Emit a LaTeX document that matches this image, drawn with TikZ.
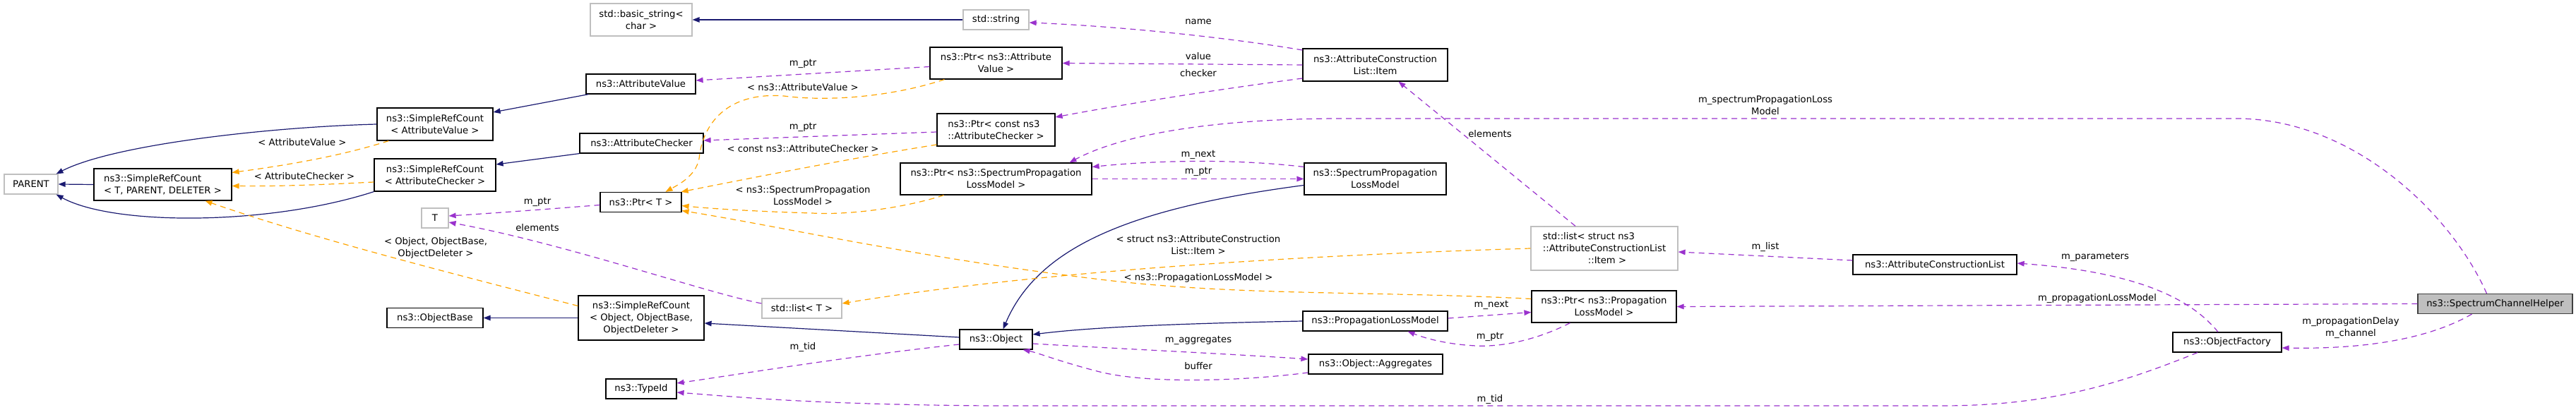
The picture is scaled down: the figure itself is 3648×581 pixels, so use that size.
\documentclass[tikz,border=0pt]{standalone}
\usepackage{fontspec}
\setmainfont{DejaVu Sans}
\usepackage{xcolor,tikz}
\usetikzlibrary{arrows.meta}

\definecolor{inhblue}{HTML}{191970}
\definecolor{tmplorange}{HTML}{FFA500}
\definecolor{usepurple}{HTML}{9A32CD}
\definecolor{extgray}{HTML}{BFBFBF}
\definecolor{helpergray}{HTML}{BFBFBF}

\begin{document}
\begin{tikzpicture}[x=1bp, y=-1bp,
    font=\fontsize{13.2bp}{17bp}\selectfont,
    cls/.style={draw=black, fill=white, line width=1.2bp, align=center, inner sep=0pt},
    ext/.style={cls, draw=extgray},
    lbl/.style={align=center, inner sep=0pt},
    tip/.style={-{Triangle[length=10bp,width=7.5bp]}},
    inh/.style={tip, draw=inhblue, line width=1.2bp},
    tmpl/.style={tip, draw=tmplorange, line width=1.2bp, dash pattern=on 8bp off 6bp},
    use/.style={tip, draw=usepurple, line width=1.2bp, dash pattern=on 8bp off 6bp}]
  \useasboundingbox (0,0) rectangle (3648,581);

  \node[ext, minimum width=76bp, minimum height=28bp] (parent) at (44,261) {PARENT};
  \node[cls, align=left, minimum width=195bp, minimum height=45bp] (srcTPD) at (230.5,261.5) {ns3::SimpleRefCount\\< T, PARENT, DELETER >};
  \node[cls, minimum width=164bp, minimum height=46bp] (srcAV) at (616,176) {ns3::SimpleRefCount\\< AttributeValue >};
  \node[cls, minimum width=172bp, minimum height=46bp] (srcAC) at (616,248) {ns3::SimpleRefCount\\< AttributeChecker >};
  \node[ext, minimum width=38bp, minimum height=28bp] (tT) at (616,309) {T};
  \node[cls, minimum width=136bp, minimum height=28bp] (objBase) at (616,450.5) {ns3::ObjectBase};

  \node[ext, minimum width=144bp, minimum height=46bp] (basicStr) at (908,28) {std::basic\_string<\\char >};
  \node[cls, minimum width=155bp, minimum height=28bp] (attrVal) at (907.5,119) {ns3::AttributeValue};
  \node[cls, minimum width=175bp, minimum height=28bp] (attrChk) at (908.5,203) {ns3::AttributeChecker};
  \node[cls, minimum width=115bp, minimum height=28bp] (ptrT) at (907.5,286.5) {ns3::Ptr< T >};
  \node[cls, minimum width=178bp, minimum height=63bp] (srcObj) at (908,450.5) {ns3::SimpleRefCount\\< Object, ObjectBase,\\ObjectDeleter >};
  \node[cls, minimum width=100bp, minimum height=28bp] (typeId) at (908,551) {ns3::TypeId};
  \node[ext, minimum width=113bp, minimum height=28bp] (listT) at (1135.5,437) {std::list< T >};

  \node[ext, minimum width=93bp, minimum height=28bp] (stdStr) at (1410.5,28) {std::string};
  \node[cls, minimum width=187bp, minimum height=45bp] (ptrAV) at (1410.5,89.5) {ns3::Ptr< ns3::Attribute\\Value >};
  \node[cls, align=left, minimum width=167bp, minimum height=46bp] (ptrAC) at (1410.5,184) {ns3::Ptr< const ns3\\::AttributeChecker >};
  \node[cls, minimum width=271bp, minimum height=45bp] (ptrSPLM) at (1410.5,253.5) {ns3::Ptr< ns3::SpectrumPropagation\\LossModel >};
  \node[cls, minimum width=103bp, minimum height=28bp] (object) at (1410.5,481) {ns3::Object};

  \node[cls, minimum width=205bp, minimum height=46bp] (item) at (1947.5,92) {ns3::AttributeConstruction\\List::Item};
  \node[cls, minimum width=201bp, minimum height=45bp] (splm) at (1947.5,253.5) {ns3::SpectrumPropagation\\LossModel};
  \node[cls, minimum width=205bp, minimum height=28bp] (plm) at (1947.5,455) {ns3::PropagationLossModel};
  \node[cls, minimum width=190bp, minimum height=28bp] (aggr) at (1948,516) {ns3::Object::Aggregates};

  \node[ext, align=left, minimum width=208bp, minimum height=62bp] (listItem) at (2272,352) {std::list< struct ns3\\::AttributeConstructionList\\\hspace*{64bp}::Item >};
  \node[cls, minimum width=205bp, minimum height=45bp] (ptrPLM) at (2271.5,434.5) {ns3::Ptr< ns3::Propagation\\LossModel >};
  \node[cls, minimum width=232bp, minimum height=28bp] (acl) at (2740,375) {ns3::AttributeConstructionList};
  \node[cls, minimum width=154bp, minimum height=28bp] (objFac) at (3154,485) {ns3::ObjectFactory};
  \node[cls, fill=helpergray, draw=black!75, minimum width=219bp, minimum height=28bp] (helper) at (3533.5,430.5) {ns3::SpectrumChannelHelper};

  \draw[inh] (srcTPD.west) -- (parent.east);
  \draw[inh] (srcAV.west) .. controls (380,180) and (160,205) .. ([xshift=-3bp]parent.north east);
  \draw[inh] (srcAC.south west) .. controls (380,320) and (160,320) .. ([xshift=-3bp]parent.south east);
  \draw[inh] ([xshift=4bp]attrVal.south west) -- ([yshift=17bp]srcAV.east);
  \draw[inh] (attrChk.south west) -- ([yshift=15bp]srcAC.east);
  \draw[inh] (stdStr.west) -- (basicStr.east);
  \draw[inh] (srcObj.west) -- (objBase.east);
  \draw[inh] ([yshift=3bp]object.west) -- ([yshift=-7.5bp]srcObj.east);
  \draw[inh] (plm.west) .. controls (1700,458) and (1560,462) .. ([yshift=7bp]object.east);
  \draw[inh] ([yshift=-9bp]splm.west) .. controls (1600,295) and (1470,350) .. ([xshift=10bp]object.north);

  \draw[tmpl] ([xshift=17bp]srcAV.south west) .. controls (480,222) and (400,235) .. ([yshift=17bp]srcTPD.east);
  \draw[tmpl] ([yshift=-10bp]srcAC.west) .. controls (450,262) and (400,264) .. ([yshift=-2bp]srcTPD.east);
  \draw[tmpl] ([yshift=17bp]srcObj.west) .. controls (650,390) and (450,340) .. ([xshift=60bp]srcTPD.south);
  \draw[tmpl] ([xshift=21bp]ptrAV.south west) .. controls (1270,135) and (1180,145) .. (1110,136)
    .. controls (1030,130) and (995,175) .. (990,225) .. controls (985,250) and (960,262) .. ([xshift=35bp]ptrT.north);
  \draw[tmpl] ([yshift=-21bp]ptrAC.west) .. controls (1200,225) and (1050,255) .. ([xshift=-1bp]ptrT.north east);
  \draw[tmpl] ([xshift=-74bp]ptrSPLM.south) .. controls (1280,295) and (1200,305) .. (1150,302)
    .. controls (1080,300) and (1010,296) .. ([yshift=-5bp]ptrT.east);
  \draw[tmpl] ([yshift=11bp]ptrPLM.west) .. controls (1950,412) and (1750,420) .. (1550,395)
    .. controls (1300,365) and (1100,320) .. ([yshift=-12bp]ptrT.east);
  \draw[tmpl] (listItem.west) .. controls (1900,360) and (1500,380) .. ([yshift=7bp]listT.east);

  \draw[use] ([yshift=-4bp]ptrT.west) .. controls (780,296) and (700,302) .. ([yshift=3bp]tT.east);
  \draw[use] ([yshift=7bp]listT.west) .. controls (1000,415) and (800,345) .. ([yshift=-6bp]tT.east);
  \draw[use] ([yshift=-5bp]ptrAV.west) -- ([yshift=5bp]attrVal.east);
  \draw[use] ([yshift=-3bp]ptrAC.west) -- ([yshift=4bp]attrChk.east);
  \draw[use] ([yshift=21bp]item.west) .. controls (1750,55) and (1600,38) .. ([yshift=-4bp]stdStr.east);
  \draw[use] (item.west) -- (ptrAV.east);
  \draw[use] ([yshift=-19bp]item.west) .. controls (1700,130) and (1580,150) .. ([yshift=18bp]ptrAC.east);
  \draw[use] ([xshift=-41bp]listItem.north) -- ([xshift=33bp]item.south);
  \draw[use] ([yshift=17bp]splm.west) .. controls (1750,225) and (1640,227) .. ([yshift=17bp]ptrSPLM.east);
  \draw[use] (ptrSPLM.east) -- (splm.west);
  \draw[use] ([xshift=-12bp]helper.north) .. controls (3470,300) and (3330,168) .. (3167,168) -- (1900,168)
    .. controls (1700,168) and (1580,195) .. ([xshift=104bp]ptrSPLM.north);
  \draw[use] ([yshift=-6bp]object.east) .. controls (1600,495) and (1750,502) .. ([yshift=7bp]aggr.west);
  \draw[use] ([yshift=-12bp]aggr.west) .. controls (1760,540) and (1620,545) .. (1550,525)
    .. controls (1500,512) and (1470,500) .. ([xshift=38bp]object.south);
  \draw[use] ([yshift=-7bp]object.west) .. controls (1200,505) and (1050,530) .. ([yshift=8bp]typeId.east);
  \draw[use] ([xshift=-42bp]objFac.south) .. controls (3000,545) and (2900,575) .. (2750,575) -- (1400,575)
    .. controls (1150,573) and (1050,563) .. ([yshift=-5bp]typeId.east);
  \draw[use] ([yshift=4bp]plm.east) -- ([yshift=-8bp]ptrPLM.west);
  \draw[use] ([xshift=-48bp]ptrPLM.south) .. controls (2180,480) and (2130,492) .. (2090,490)
    .. controls (2050,488) and (2020,480) .. ([xshift=46bp]plm.south);
  \draw[use] ([yshift=6bp]acl.west) -- ([yshift=-5bp]listItem.east);
  \draw[use] ([xshift=-13bp]objFac.north) .. controls (3100,420) and (3020,385) .. ([yshift=2bp]acl.east);
  \draw[use] (helper.west) -- (ptrPLM.east);
  \draw[use] ([xshift=-33bp]helper.south) .. controls (3440,480) and (3350,495) .. ([yshift=-8bp]objFac.east);

  \node[lbl] (lAV) at (428,202) {< AttributeValue >};
  \node[lbl] (lAC) at (431,250) {< AttributeChecker >};
  \node[lbl] (lObj) at (617,351.5) {< Object, ObjectBase,\\ObjectDeleter >};
  \node[lbl] (lPtrAV) at (1137,90) {m\_ptr};
  \node[lbl] (lTAV) at (1137,124) {< ns3::AttributeValue >};
  \node[lbl] (lPtrAC) at (1137,180) {m\_ptr};
  \node[lbl] (lTAC) at (1137,211) {< const ns3::AttributeChecker >};
  \node[lbl] (lTSPLM) at (1137,277) {< ns3::SpectrumPropagation\\LossModel >};
  \node[lbl] (lPtrT) at (761,286) {m\_ptr};
  \node[lbl] (lElemT) at (761,323) {elements};
  \node[lbl] (lTid) at (1137,492) {m\_tid};
  \node[lbl] (lName) at (1697,31) {name};
  \node[lbl] (lValue) at (1697,80) {value};
  \node[lbl] (lChecker) at (1697,104) {checker};
  \node[lbl] (lNextS) at (1697,219) {m\_next};
  \node[lbl] (lPtrS) at (1697,243) {m\_ptr};
  \node[lbl] (lElemI) at (2110,190) {elements};
  \node[lbl] (lTItem) at (1697,347.5) {< struct ns3::AttributeConstruction\\List::Item >};
  \node[lbl] (lTPLM) at (1697,394) {< ns3::PropagationLossModel >};
  \node[lbl] (lAggr) at (1697,482) {m\_aggregates};
  \node[lbl] (lBuffer) at (1697,519) {buffer};
  \node[lbl] (lList) at (2500,350) {m\_list};
  \node[lbl] (lNextP) at (2112,432) {m\_next};
  \node[lbl] (lPtrP) at (2110,477) {m\_ptr};
  \node[lbl] (lTidF) at (2110,566) {m\_tid};
  \node[lbl] (lSPLM) at (2500,149) {m\_spectrumPropagationLoss\\Model};
  \node[lbl] (lParams) at (2967,364) {m\_parameters};
  \node[lbl] (lPLM) at (2970,423) {m\_propagationLossModel};
  \node[lbl] (lDelay) at (3329,465) {m\_propagationDelay\\m\_channel};
\end{tikzpicture}
\end{document}
